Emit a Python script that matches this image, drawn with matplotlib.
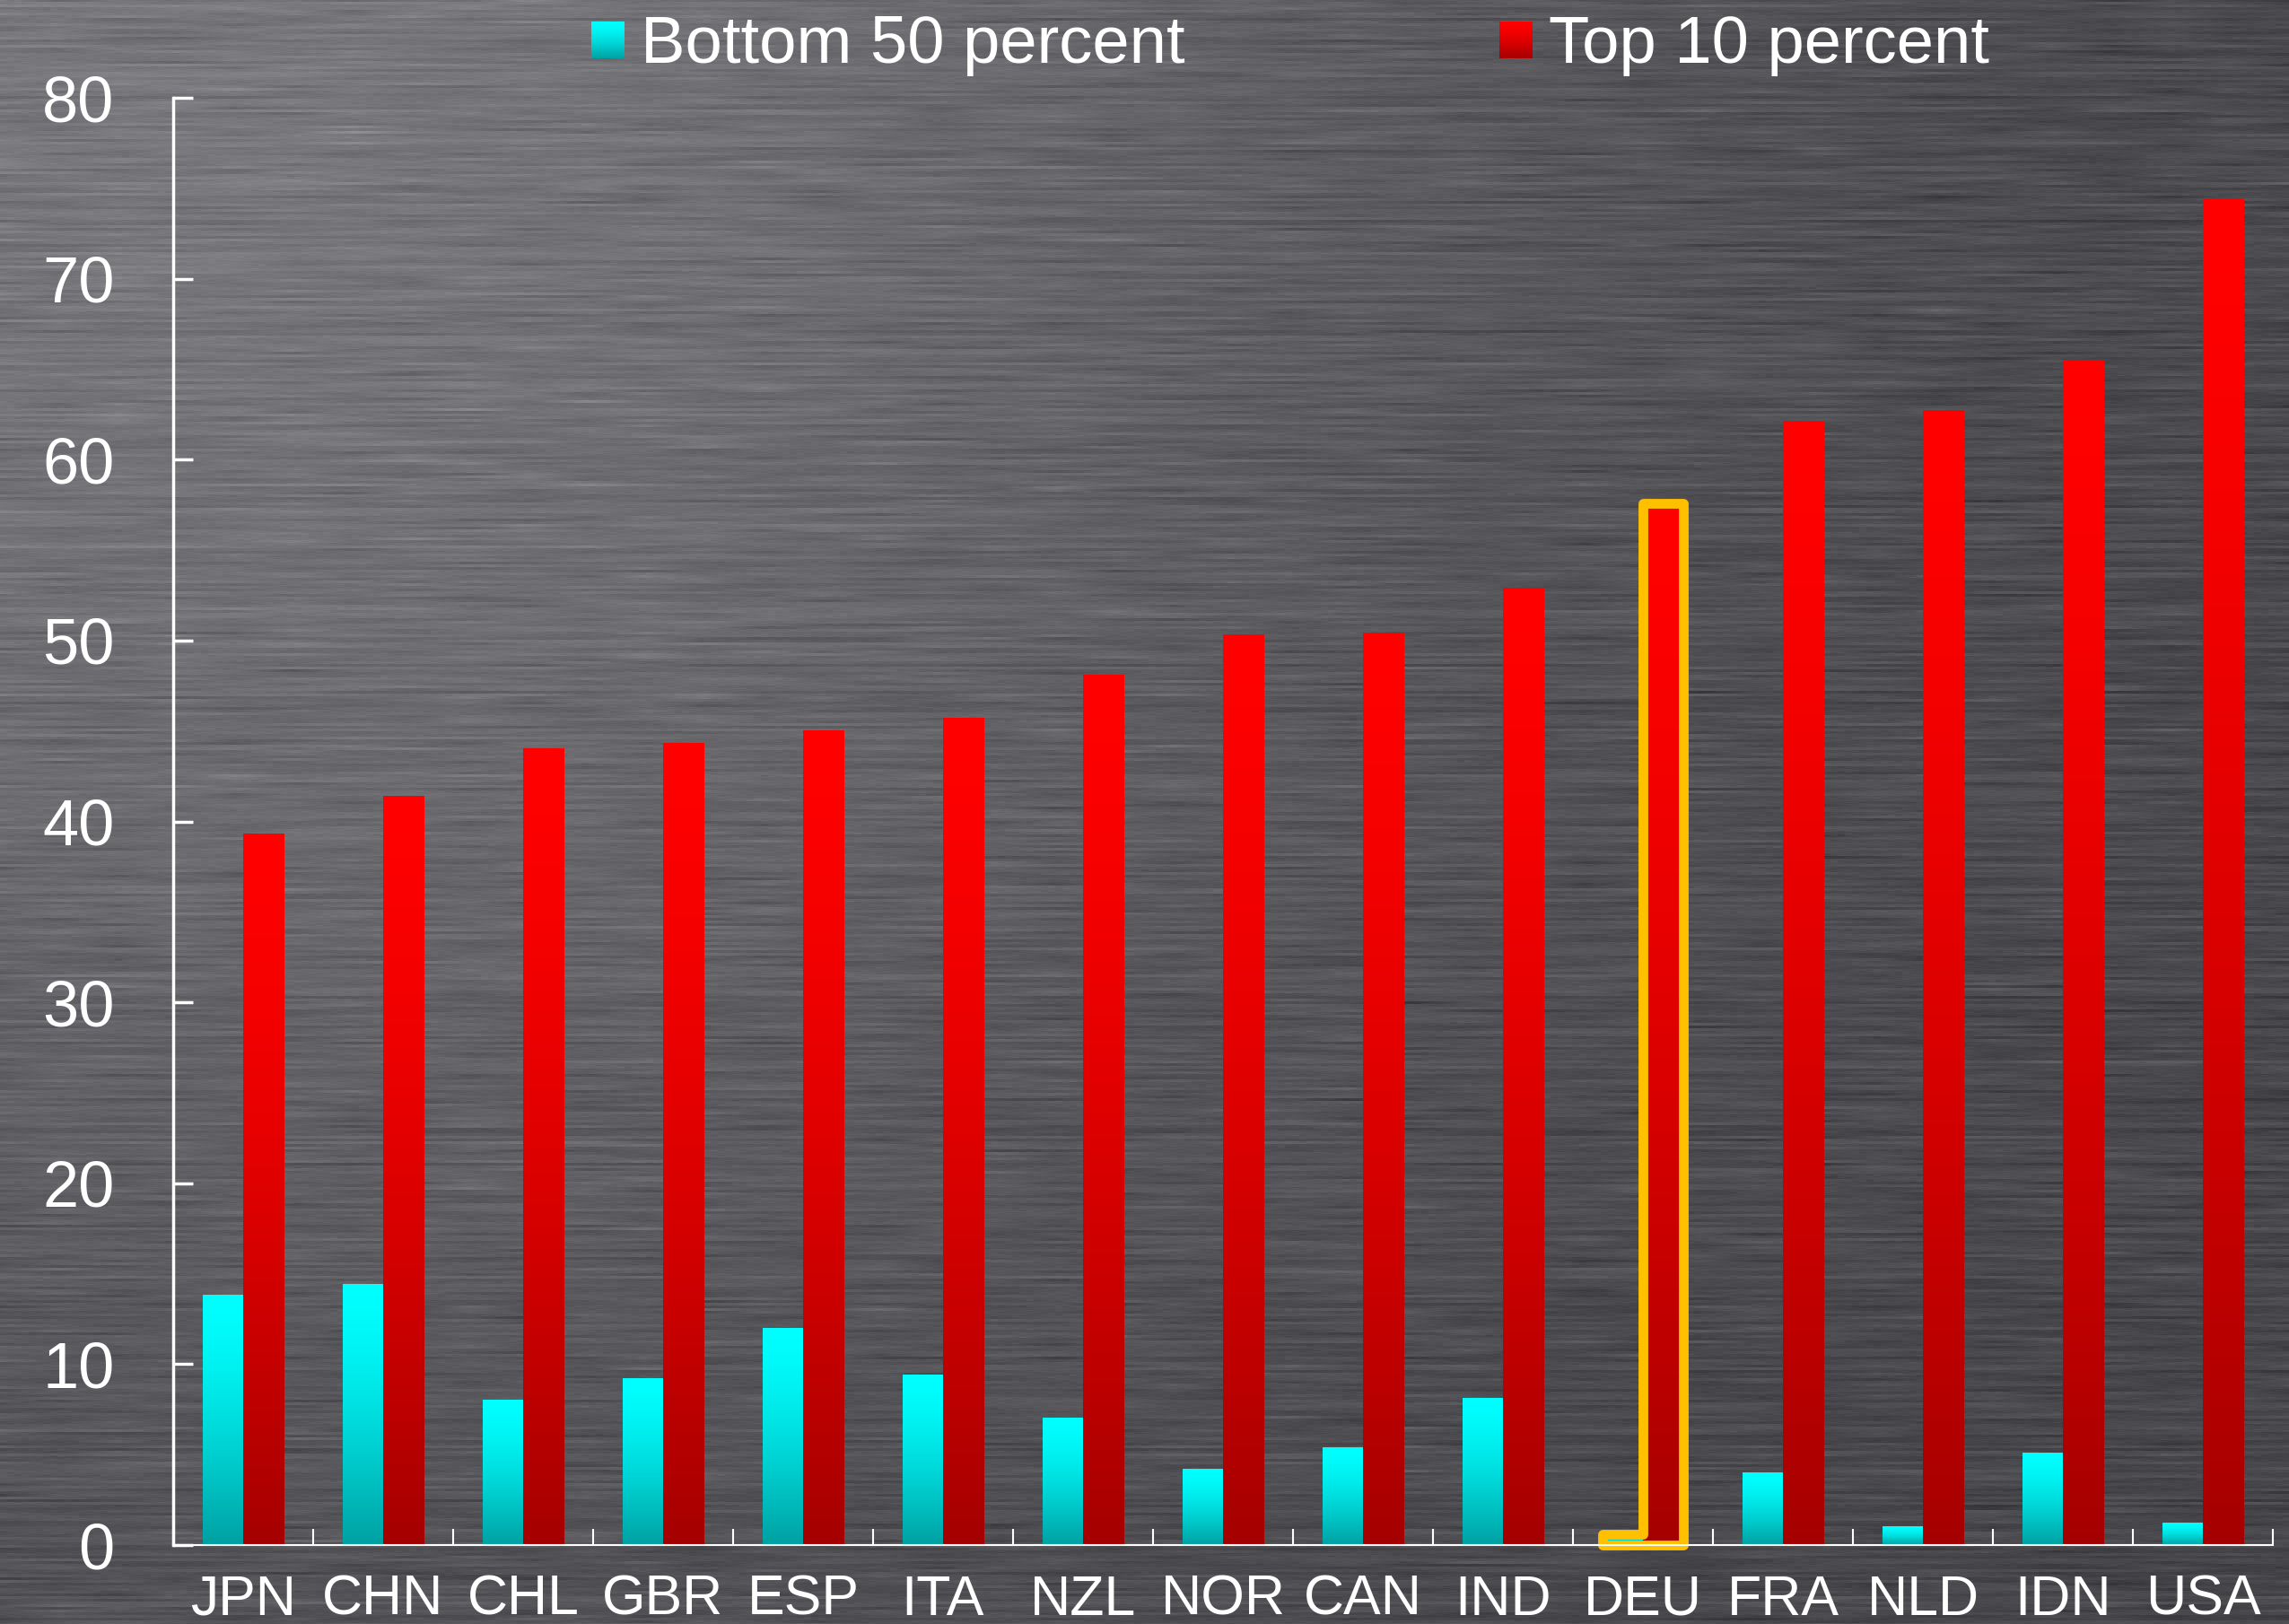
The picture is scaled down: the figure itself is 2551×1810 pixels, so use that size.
import numpy as np
import matplotlib.pyplot as plt
from matplotlib.patches import Polygon

plt.rcParams['font.family'] = ['Liberation Sans', 'DejaVu Sans']

countries = ['JPN', 'CHN', 'CHL', 'GBR', 'ESP', 'ITA', 'NZL', 'NOR',
             'CAN', 'IND', 'DEU', 'FRA', 'NLD', 'IDN', 'USA']
bottom50 = [13.8, 14.4, 8.0, 9.2, 12.0, 9.4, 7.0, 4.2,
            5.4, 8.1, 0.6, 4.0, 1.0, 5.1, 1.2]
top10 = [39.3, 41.4, 44.0, 44.3, 45.0, 45.7, 48.1, 50.3,
         50.4, 52.9, 57.6, 62.1, 62.7, 65.5, 74.4]
highlight = 'DEU'

W, H = 2551, 1810
fig = plt.figure(figsize=(W / 100, H / 100), dpi=100)


def metal_background(w, h, seed=3):
    # brushed metal: soft highlight in the upper left plus horizontal streaks
    rng = np.random.default_rng(seed)
    yy, xx = np.mgrid[0:h, 0:w]
    d = ((xx - 200) / 1500.0) ** 2 + ((yy - 100) / 1500.0) ** 2
    base = 70 + 50 * np.exp(-d)

    rows = h // 3 + 1
    cols = 40
    coarse = rng.normal(0, 1, (rows, cols))
    xs = np.linspace(0, cols - 1, w)
    i0 = np.floor(xs).astype(int)
    i1 = np.minimum(i0 + 1, cols - 1)
    f = xs - i0
    streak = coarse[:, i0] * (1 - f) + coarse[:, i1] * f
    streak = np.repeat(streak, 3, axis=0)[:h]
    row_noise = np.repeat(rng.normal(0, 1, rows), 3)[:h][:, None]
    fine = rng.normal(0, 1, (h, w // 8 + 1)).repeat(8, axis=1)[:, :w]

    v = base + 6 * streak + 3 * row_noise + 2 * fine
    img = np.stack([v, v - 1, v + 4], axis=-1)
    return np.clip(img, 0, 255) / 255.0


bg = fig.add_axes([0, 0, 1, 1], zorder=-10)
bg.imshow(metal_background(W, H), aspect='auto', interpolation='nearest')
bg.axis('off')

ax = fig.add_axes([193 / W, 1 - 1722 / H, (2533 - 193) / W, (1722 - 109) / H])
ax.patch.set_alpha(0)

x = np.arange(len(countries))
w = 0.29
cyan_bars = ax.bar(x - w / 2, bottom50, w, color='none', linewidth=0)
red_bars = ax.bar(x + w / 2, top10, w, color='none', linewidth=0)


def gradient(top, bottom, n=256):
    t = np.linspace(0, 1, n) ** 1.5
    top = np.array(top, float)
    bottom = np.array(bottom, float)
    g = top[None, :] + (bottom - top)[None, :] * t[:, None]
    return (g / 255.0)[:, None, :]


cyan_grad = gradient((0, 255, 255), (0, 160, 162))
red_grad = gradient((255, 0, 0), (165, 0, 0))

for bars, grad in ((cyan_bars, cyan_grad), (red_bars, red_grad)):
    for b in bars:
        x0, y0 = b.get_x(), b.get_y()
        ax.imshow(grad, extent=(x0, x0 + b.get_width(), y0, y0 + b.get_height()),
                  aspect='auto', interpolation='bilinear', zorder=2)

# outline around the highlighted country's pair of bars
k = countries.index(highlight)
cb, rb = cyan_bars[k], red_bars[k]
outline = [(cb.get_x(), 0), (cb.get_x(), cb.get_height()),
           (rb.get_x(), cb.get_height()), (rb.get_x(), rb.get_height()),
           (rb.get_x() + rb.get_width(), rb.get_height()),
           (rb.get_x() + rb.get_width(), 0)]
ax.add_patch(Polygon(outline, closed=True, fill=False, edgecolor='#FFC000',
                     linewidth=7.8, joinstyle='round', zorder=4, clip_on=False))

ax.set_xlim(-0.5, len(countries) - 0.5)
ax.set_ylim(0, 80)
ax.set_yticks(range(0, 81, 10))
ax.set_xticks(x)
ax.set_xticklabels(countries)
ax.set_xticks(np.arange(-0.5, len(countries)), minor=True)

for side in ('top', 'right'):
    ax.spines[side].set_visible(False)
ax.spines['left'].set_color('white')
ax.spines['left'].set_linewidth(2.5)
ax.spines['bottom'].set_color('white')
ax.spines['bottom'].set_linewidth(1.5)
ax.spines['left'].set_zorder(5)
ax.spines['bottom'].set_zorder(5)

ax.tick_params(axis='y', direction='in', length=16, width=2.5, color='white',
               labelcolor='white', labelsize=52, pad=47)
ax.tick_params(axis='x', which='major', length=0, labelcolor='white',
               labelsize=45, pad=23)
ax.tick_params(axis='x', which='minor', direction='in', length=13, width=1.5,
               color='white')

# legend with gradient swatches
legend_items = [('Bottom 50 percent', cyan_grad, 659), ('Top 10 percent', red_grad, 1671)]
for label, grad, px in legend_items:
    sw = fig.add_axes([px / W, 1 - 65 / H, 37 / W, 41 / H])
    sw.imshow(grad, aspect='auto', interpolation='bilinear')
    sw.axis('off')
    fig.text((px + 55) / W, 1 - 70 / H, label, color='white', fontsize=53.5,
             va='baseline', ha='left')

fig.savefig('out.png', dpi=100)
